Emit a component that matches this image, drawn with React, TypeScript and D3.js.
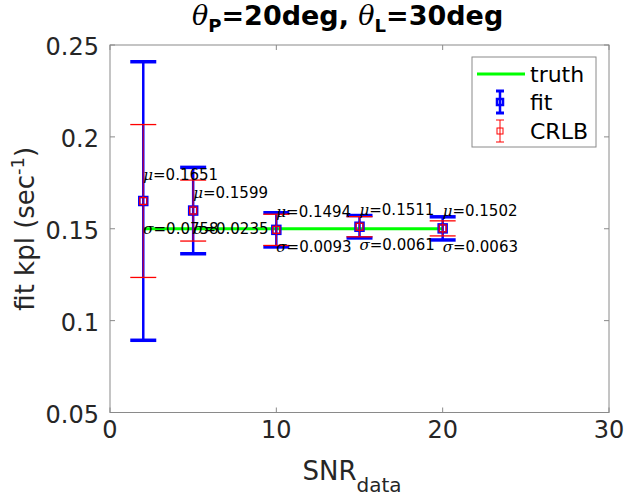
import React from "react";
import * as d3 from "d3";

const snr = [2, 5, 10, 15, 20];
const fitMean = [0.1651, 0.1599, 0.1494, 0.1511, 0.1502];
const fitSd = [0.0758, 0.0235, 0.0093, 0.0061, 0.0063];
const crlbSd = [0.0416, 0.0166, 0.0085, 0.0055, 0.0041];
const truthValue = 0.15;
const muLabelY = [0.1793, 0.1695, 0.1593, 0.1602, 0.1598];
const sigmaLabelY = [0.1499, 0.15, 0.1402, 0.1412, 0.1399];
const xTicks = [0, 10, 20, 30];
const yTicks = [0.05, 0.1, 0.15, 0.2, 0.25];
const yTickLabels = ["0.05", "0.1", "0.15", "0.2", "0.25"];
const legendLabels = ["truth", "fit", "CRLB"];

const W = 624;
const H = 496;
const L = 110, R = 609, T = 45, B = 412.5;

const SANS = "'DejaVu Sans', sans-serif";
const SERIF = "'DejaVu Serif', serif";
const AXC = "#262626";
const BOXC = "#8a8a8a";

export default function App() {
  const x = d3.scaleLinear().domain([0, 30]).range([L, R]);
  const y = d3.scaleLinear().domain([0.05, 0.25]).range([B, T]);
  const cap = 13;
  const tickLen = 5;
  const truthLine = d3.line<number>().x((d) => x(d)).y(() => y(truthValue));

  return (
    <svg width={W} height={H} style={{ position: "absolute", left: 0, top: 0, background: "#fff" }}>
      <rect x={0} y={0} width={W} height={H} fill="#fff" />
      {/* axes box */}
      <rect x={L} y={T} width={R - L} height={B - T} fill="#fff" stroke={BOXC} strokeWidth={1} />
      {/* ticks */}
      {xTicks.map((t) => (
        <g key={"xt" + t}>
          <line x1={x(t)} x2={x(t)} y1={B} y2={B - tickLen} stroke={BOXC} />
          <line x1={x(t)} x2={x(t)} y1={T} y2={T + tickLen} stroke={BOXC} />
          <text x={x(t)} y={438} textAnchor="middle" fontFamily={SANS} fontSize={24} fill={AXC}>{t}</text>
        </g>
      ))}
      {yTicks.map((t, i) => (
        <g key={"yt" + t}>
          <line x1={L} x2={L + tickLen} y1={y(t)} y2={y(t)} stroke={BOXC} />
          <line x1={R} x2={R - tickLen} y1={y(t)} y2={y(t)} stroke={BOXC} />
          <text x={99} y={y(t) + 2} textAnchor="end" dominantBaseline="central" fontFamily={SANS} fontSize={24} fill={AXC}>{yTickLabels[i]}</text>
        </g>
      ))}

      {/* truth line */}
      <path d={truthLine([snr[0], snr[snr.length - 1]]) || ""} stroke="#00ff00" strokeWidth={3} fill="none" />

      {/* fit error bars */}
      {snr.map((s, i) => {
        const cx = x(s);
        const top = y(fitMean[i] + fitSd[i]);
        const bot = y(fitMean[i] - fitSd[i]);
        return (
          <g key={"fit" + s} stroke="#0000ff" fill="none">
            <line x1={cx} x2={cx} y1={top} y2={bot} strokeWidth={2.5} />
            <line x1={cx - cap} x2={cx + cap} y1={top} y2={top} strokeWidth={3.5} />
            <line x1={cx - cap} x2={cx + cap} y1={bot} y2={bot} strokeWidth={3.5} />
            <rect x={cx - 4} y={y(fitMean[i]) - 4} width={8} height={8} strokeWidth={2.5} />
          </g>
        );
      })}
      {/* CRLB error bars */}
      {snr.map((s, i) => {
        const cx = x(s);
        const top = y(fitMean[i] + crlbSd[i]);
        const bot = y(fitMean[i] - crlbSd[i]);
        return (
          <g key={"crlb" + s} stroke="#ff0000" fill="none">
            <line x1={cx} x2={cx} y1={top} y2={bot} strokeWidth={1.2} strokeOpacity={0.75} />
            <line x1={cx - cap} x2={cx + cap} y1={top} y2={top} strokeWidth={1.3} />
            <line x1={cx - cap} x2={cx + cap} y1={bot} y2={bot} strokeWidth={1.3} />
            <rect x={cx - 3.5} y={y(fitMean[i]) - 3.5} width={7} height={7} strokeWidth={1.2} />
          </g>
        );
      })}

      {/* annotations */}
      {snr.map((s, i) => (
        <g key={"lab" + s} fontSize={15} fill="#000">
          <text x={x(s)} y={y(muLabelY[i])} dominantBaseline="central">
            <tspan fontFamily={SERIF} fontStyle="italic">μ</tspan>
            <tspan fontFamily={SANS}>={fitMean[i].toFixed(4)}</tspan>
          </text>
          <text x={x(s)} y={y(sigmaLabelY[i])} dominantBaseline="central">
            <tspan fontFamily={SERIF} fontStyle="italic">σ</tspan>
            <tspan fontFamily={SANS}>={fitSd[i].toFixed(4)}</tspan>
          </text>
        </g>
      ))}

      {/* legend */}
      <rect x={472} y={57} width={124} height={90} fill="#fff" stroke={BOXC} strokeWidth={1} />
      <line x1={477} x2={525} y1={74} y2={74} stroke="#00ff00" strokeWidth={3} />
      <g stroke="#0000ff" fill="none">
        <line x1={500} x2={500} y1={91} y2={113} strokeWidth={2.5} />
        <line x1={496} x2={504} y1={91} y2={91} strokeWidth={3} />
        <line x1={496} x2={504} y1={113} y2={113} strokeWidth={3} />
        <rect x={497} y={99} width={6} height={6} strokeWidth={2.5} />
      </g>
      <g stroke="#ff0000" fill="none">
        <line x1={500} x2={500} y1={120} y2={142} strokeWidth={1} />
        <line x1={496} x2={504} y1={120} y2={120} strokeWidth={1} />
        <line x1={496} x2={504} y1={142} y2={142} strokeWidth={1} />
        <rect x={497} y={128} width={6} height={6} strokeWidth={1} />
      </g>
      {legendLabels.map((lab, i) => (
        <text key={lab} x={530} y={74 + i * 28.5} dominantBaseline="central" fontFamily={SANS} fontSize={22} fill="#000">{lab}</text>
      ))}

      {/* title */}
      <text x={192} y={25} fontFamily={SANS} fontWeight="bold" fontSize={27} fill="#000">
        <tspan fontFamily={SERIF} fontStyle="italic" fontWeight="normal">θ</tspan>
        <tspan fontSize={18} dy={7}>P</tspan>
        <tspan dy={-7}>=20deg, </tspan>
        <tspan fontFamily={SERIF} fontStyle="italic" fontWeight="normal">θ</tspan>
        <tspan fontSize={18} dy={7}>L</tspan>
        <tspan dy={-7}>=30deg</tspan>
      </text>

      {/* x label */}
      <text x={352} y={480} textAnchor="middle" fontFamily={SANS} fontSize={26} fill={AXC}>
        SNR<tspan fontSize={20} dy={12}>data</tspan>
      </text>

      {/* y label */}
      <text transform={`translate(34, ${(T + B) / 2}) rotate(-90)`} textAnchor="middle" fontFamily={SANS} fontSize={26} fill={AXC}>
        fit kpl (sec<tspan fontSize={18} dy={-10}>-1</tspan><tspan dy={10}>)</tspan>
      </text>
    </svg>
  );
}
